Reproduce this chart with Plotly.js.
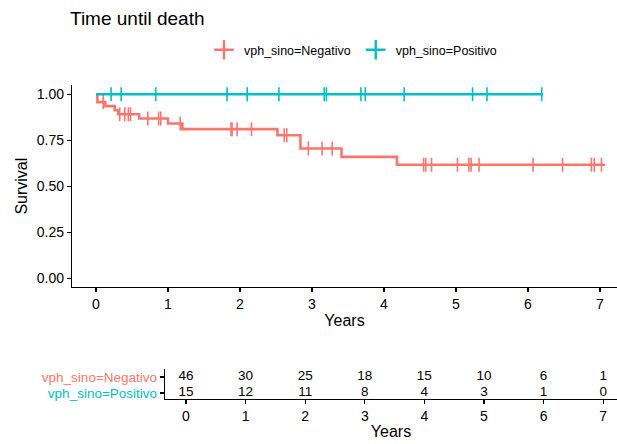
<!DOCTYPE html>
<html>
<head>
<meta charset="utf-8">
<script src="https://cdn.plot.ly/plotly-3.0.1.min.js"></script>
<style>html,body{margin:0;padding:0;background:#fff;}#chart{width:617px;height:444px;}</style>
</head>
<body>
<div id="chart"></div>
<script>
// ---- data ----
const groupNames = ["vph_sino=Negativo", "vph_sino=Positivo"];
const groupColors = ["#F8766D", "#00BFC4"];

// Kaplan-Meier step points (time in years, survival)
const negTimes = [0, 0.02, 0.13, 0.26, 0.31, 0.60, 1.00, 1.20, 2.52, 2.84, 3.41, 4.18, 7.07];
const negSurv  = [1, 0.957, 0.935, 0.913, 0.891, 0.868, 0.841, 0.810, 0.777, 0.705, 0.659, 0.616, 0.616];
const posTimes = [0, 6.21];
const posSurv  = [1, 1];

// censoring times
const negCensor = [0.10, 0.33, 0.40, 0.45, 0.48, 0.72, 0.87, 0.90, 1.17, 1.875, 1.89, 1.96, 2.16,
                   2.615, 2.65, 2.95, 3.14, 3.28, 4.55, 4.58, 4.66, 5.02, 5.18, 5.21, 5.32,
                   6.07, 6.48, 6.88, 6.92, 7.02];
const posCensor = [0.21, 0.35, 0.83, 1.82, 2.10, 2.54, 3.17, 3.20, 3.68, 3.74, 4.28, 5.23, 5.43, 6.19];

// number at risk table
const riskTimes = [0, 1, 2, 3, 4, 5, 6, 7];
const negRisk = [46, 30, 25, 18, 15, 10, 6, 1];
const posRisk = [15, 12, 11, 8, 4, 3, 1, 0];

const yTickVals = [0, 0.25, 0.5, 0.75, 1];
const yTickText = ["0.00", "0.25", "0.50", "0.75", "1.00"];
const xTickVals = [0, 1, 2, 3, 4, 5, 6, 7];

// ---- build ----
function stepAt(times, surv, t) {
  let s = surv[0];
  for (let i = 0; i < times.length; i++) { if (times[i] <= t) s = surv[i]; }
  return s;
}
const FONT = "Liberation Sans, Arial, sans-serif";
const traces = [];
const curves = [[negTimes, negSurv, negCensor], [posTimes, posSurv, posCensor]];
curves.forEach((c, i) => {
  traces.push({x: c[0], y: c[1], type: "scatter", mode: "lines", line: {shape: "hv", color: groupColors[i], width: 2.6},
    showlegend: false, hoverinfo: "skip", xaxis: "x", yaxis: "y"});
  traces.push({x: c[2], y: c[2].map(t => stepAt(c[0], c[1], t)), type: "scatter", mode: "markers",
    marker: {symbol: "line-ns", size: 10, color: groupColors[i], line: {color: groupColors[i], width: 1.6}},
    showlegend: false, hoverinfo: "skip", xaxis: "x", yaxis: "y"});
});
groupNames.forEach((n, i) => {
  traces.push({x: [null], y: [null], type: "scatter", mode: "markers", name: n,
    marker: {symbol: "cross-thin", size: 14, color: groupColors[i], line: {color: groupColors[i], width: 2.4}},
    xaxis: "x", yaxis: "y"});
});
// risk table
traces.push({x: riskTimes, y: riskTimes.map(() => 1), text: negRisk.map(String), type: "scatter", mode: "text",
  textfont: {family: FONT, size: 13.5, color: "#000"}, showlegend: false, hoverinfo: "skip", xaxis: "x2", yaxis: "y2"});
traces.push({x: riskTimes, y: riskTimes.map(() => 0), text: posRisk.map(String), type: "scatter", mode: "text",
  textfont: {family: FONT, size: 13.5, color: "#000"}, showlegend: false, hoverinfo: "skip", xaxis: "x2", yaxis: "y2"});

const axisCommon = {showline: true, linecolor: "#000", linewidth: 1.2, ticks: "outside", ticklen: 4, tickwidth: 1.1,
  tickcolor: "#000", showgrid: false, zeroline: false, tickfont: {family: FONT, size: 14, color: "#000"}};

const layout = {
  width: 617, height: 444,
  margin: {l: 72, r: 0, t: 85, b: 45},
  paper_bgcolor: "#fff", plot_bgcolor: "#fff",
  font: {family: FONT, color: "#000"},
  title: {text: "Time until death", x: 70/617, xanchor: "left", xref: "container", y: 1 - 18/444, yanchor: "middle", yref: "container",
    font: {family: FONT, size: 19, color: "#000"}},
  showlegend: true,
  legend: {orientation: "h", x: 0.5156, xanchor: "center", y: 1.111, yanchor: "middle",
    font: {family: FONT, size: 12.5, color: "#000"}, itemwidth: 30, tracegroupgap: 0, bgcolor: "rgba(0,0,0,0)"},
  xaxis: Object.assign({}, axisCommon, {domain: [0, 1], range: [-0.333, 7.236], tickvals: xTickVals, anchor: "y",
    title: {text: "Years", font: {family: FONT, size: 16, color: "#000"}, standoff: 3}}),
  yaxis: Object.assign({}, axisCommon, {domain: [0.3558, 1], range: [-0.05, 1.05], tickvals: yTickVals, ticktext: yTickText, anchor: "x",
    title: {text: "Survival", font: {family: FONT, size: 16, color: "#000"}, standoff: 5}}),
  xaxis2: Object.assign({}, axisCommon, {domain: [0.1706, 1], range: [-0.352, 7.232], tickvals: xTickVals, anchor: "y2",
    title: {text: "Years", font: {family: FONT, size: 16, color: "#000"}, standoff: 2}}),
  yaxis2: Object.assign({}, axisCommon, {domain: [0, 0.0955], range: [-0.375, 1.5], tickvals: [0, 1], anchor: "x2",
    ticktext: groupNames.slice().reverse().map((n, k) => '<span style="color:' + groupColors[1 - k] + '">' + n + '</span>'),
    tickfont: {family: FONT, size: 13.5, color: "#000"}})
};

Plotly.newPlot("chart", traces, layout, {staticPlot: true, displayModeBar: false});
</script>
</body>
</html>
